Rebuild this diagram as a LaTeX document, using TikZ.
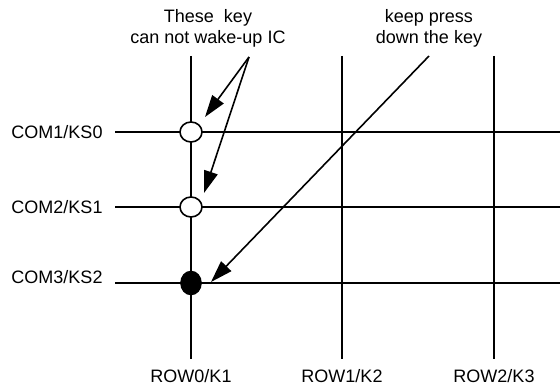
\documentclass[tikz,border=0pt]{standalone}
\usepackage{fontspec}
\setmainfont{Liberation Sans}
\usetikzlibrary{arrows.meta,shapes.geometric}

\begin{document}
\begin{tikzpicture}[x=1pt,y=-1pt,
  every node/.style={font=\fontsize{18}{21}\selectfont},
  wire/.style={line width=1.9pt},
  keyopen/.style={ellipse,draw,line width=1.6pt,fill=white,minimum width=22pt,minimum height=20pt,inner sep=0pt},
  keydown/.style={ellipse,draw,line width=1.6pt,fill=black,minimum width=20pt,minimum height=23pt,inner sep=0pt},
  pointer/.style={line width=1.6pt,-{Triangle[length=22pt,width=14pt]}}]
\useasboundingbox (0,0) rectangle (560,387);
\draw[wire] (191,56) -- (191,359)
  (342,56) -- (342,359)
  (494,56) -- (494,359)
  (115,132) -- (560,132)
  (115,207) -- (560,207)
  (115,283) -- (560,283);
\node (com1) at (57,132) {COM1/KS0};
\node (com2) at (57,207) {COM2/KS1};
\node (com3) at (57,277) {COM3/KS2};
\node (row0) at (191,376) {ROW0/K1};
\node (row1) at (342,376) {ROW1/K2};
\node (row2) at (494,376) {ROW2/K3};
\node[keyopen] (k0) at (191,132) {};
\node[keyopen] (k1) at (191,207) {};
\node[keydown] (k2) at (191,283) {};
\node[align=center] (wake) at (208,28) {These~ key\\can not wake-up IC};
\node[align=center] (press) at (429,28) {keep press\\down the key};
% arrow ends
\coordinate (w) at (249,57);
\coordinate (p) at (429,56);
\coordinate (t0) at (205,117);
\coordinate (t1) at (204,193);
\coordinate (t2) at (211,282);
\draw[pointer] (w) -- (t0);
\draw[pointer] (w) -- (t1);
\draw[pointer] (p) -- (t2);
\end{tikzpicture}
\end{document}
